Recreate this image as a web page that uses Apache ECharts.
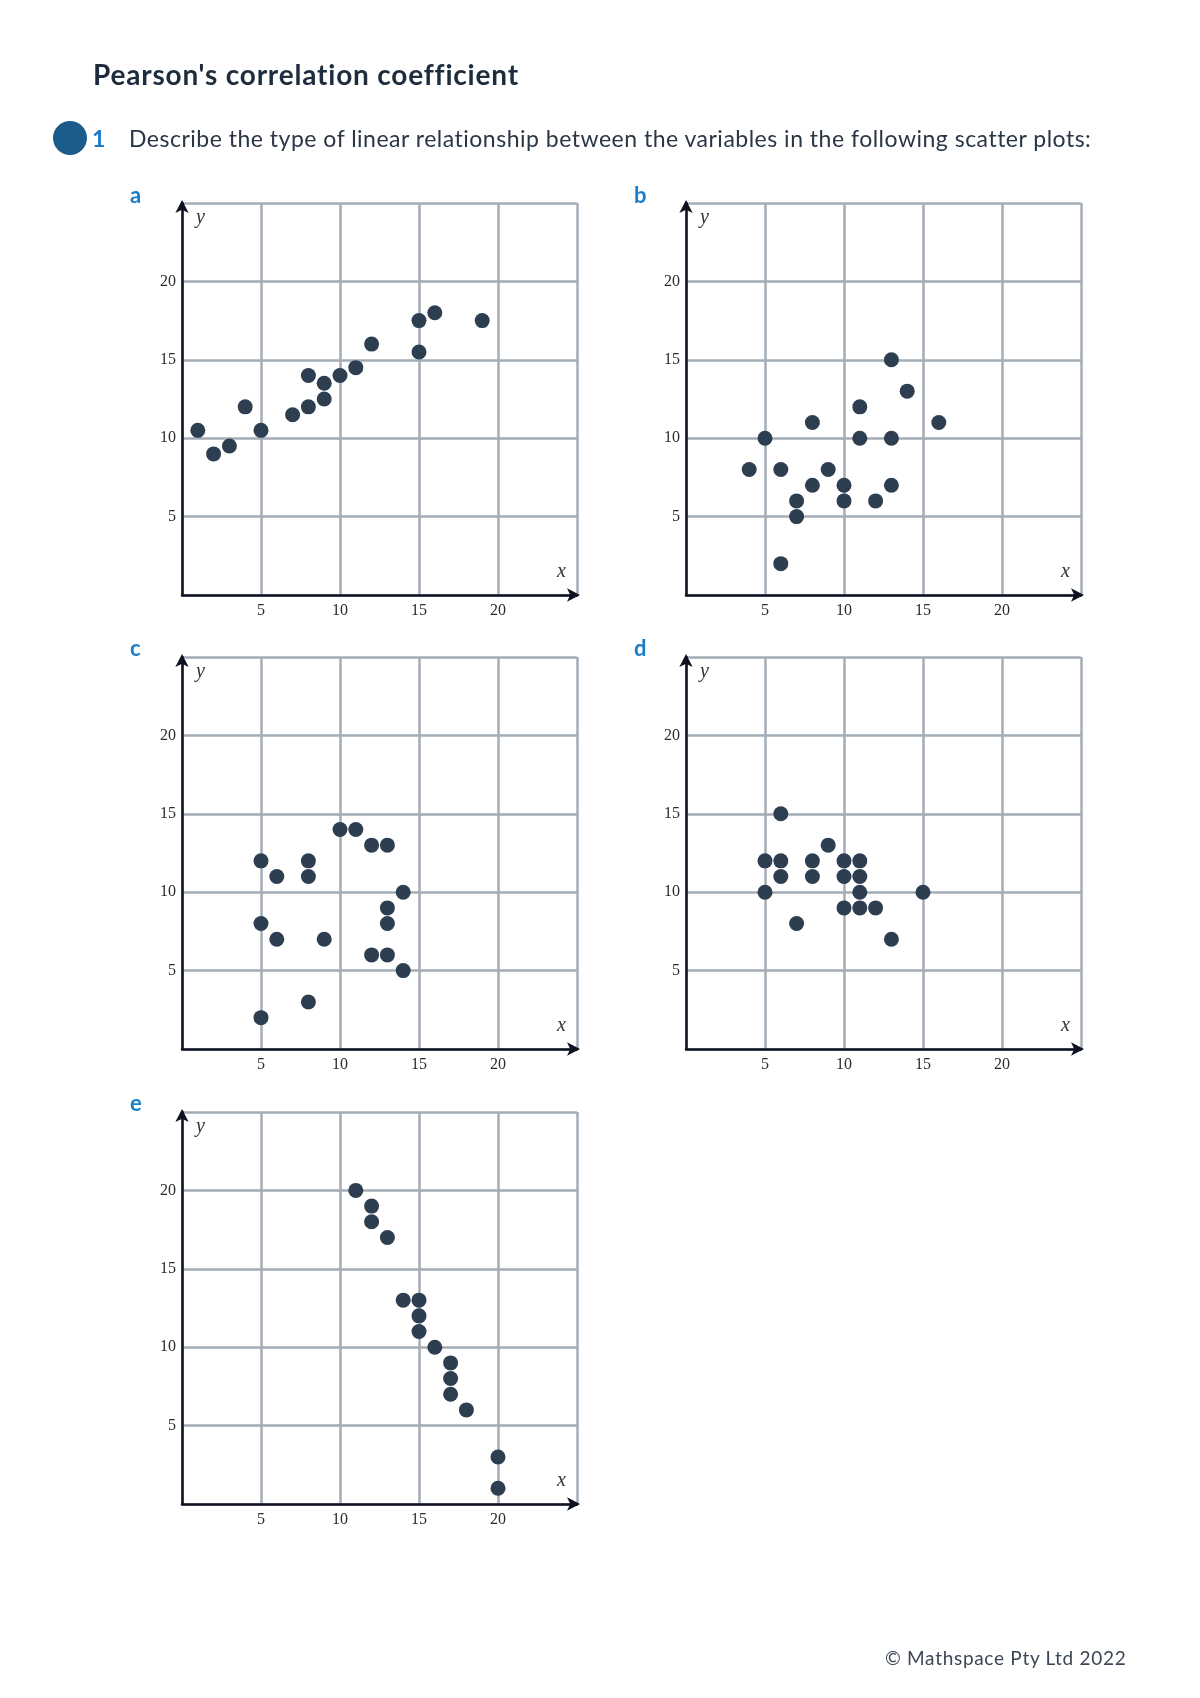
<!DOCTYPE html>
<html lang="en">
<head>
  <meta charset="UTF-8" />
  <title>Pearson's correlation coefficient</title>
  <script src="https://cdn.jsdelivr.net/npm/echarts@6/dist/echarts.min.js"></script>
  <style>
    body {
      margin: 0;
      width: 1200px;
      height: 1698px;
      position: relative;
      background: #fff;
      font-family: 'Lato', sans-serif;
      overflow: hidden;
    }
    #chart {
      position: absolute;
      left: 0; top: 0;
      width: 1200px;
      height: 1698px;
    }
    .txt {
      position: absolute;
      white-space: nowrap;
      line-height: 1;
      transform: translateY(-50%);
    }
    .page-title {
      left: 93px; top: 74px;
      font-size: 28px;
      font-weight: 700;
      letter-spacing: 0.8px;
      color: #1e2d3d;
    }
    .bubble {
      position: absolute;
      left: 53px; top: 121px;
      width: 34px; height: 34px;
      border-radius: 50%;
      background: #1b5c8c;
    }
    .qnum {
      left: 92px; top: 138px;
      font-size: 23px;
      font-weight: 700;
      color: #1f7ac6;
    }
    .question {
      left: 129px; top: 138px;
      font-size: 23px;
      letter-spacing: 0.5px;
      color: #2a3646;
    }
    .part {
      font-size: 22px;
      font-weight: 700;
      color: #1a7dc8;
    }
    .footer {
      left: 885px; top: 1657px;
      font-size: 19px;
      letter-spacing: 0.7px;
      color: #3b4756;
    }
  </style>
</head>
<body>
  <div id="chart"></div>

  <div class="txt page-title">Pearson's correlation coefficient</div>
  <div class="bubble"></div>
  <div class="txt qnum">1</div>
  <div class="txt question">Describe the type of linear relationship between the variables in the following scatter plots:</div>
  <div class="txt part" style="left:130px;top:195px">a</div>
  <div class="txt part" style="left:634px;top:195px">b</div>
  <div class="txt part" style="left:130px;top:648px">c</div>
  <div class="txt part" style="left:634px;top:648px">d</div>
  <div class="txt part" style="left:130px;top:1103px">e</div>
  <div class="txt footer">© Mathspace Pty Ltd 2022</div>

  <script>
    // scatter data, [x, y]
    const pointsA = [
      [1, 10.5], [2, 9], [3, 9.5], [4, 12], [5, 10.5], [7, 11.5], [8, 12], [8, 14],
      [9, 13.5], [9, 12.5], [10, 14], [11, 14.5], [12, 16], [15, 17.5], [15, 15.5],
      [16, 18], [19, 17.5]
    ];
    const pointsB = [
      [4, 8], [5, 10], [6, 8], [6, 2], [7, 6], [7, 5], [8, 11], [8, 7], [9, 8],
      [10, 7], [10, 6], [11, 12], [11, 10], [12, 6], [13, 15], [13, 10], [13, 7],
      [14, 13], [16, 11]
    ];
    const pointsC = [
      [5, 12], [5, 8], [5, 2], [6, 11], [6, 7], [8, 12], [8, 11], [8, 3], [9, 7],
      [10, 14], [11, 14], [12, 13], [13, 13], [12, 6], [13, 6], [13, 9], [13, 8],
      [14, 10], [14, 5]
    ];
    const pointsD = [
      [6, 15], [5, 12], [6, 12], [5, 10], [6, 11], [7, 8], [8, 12], [8, 11], [9, 13],
      [10, 12], [10, 11], [10, 9], [11, 12], [11, 11], [11, 10], [11, 9], [12, 9],
      [13, 7], [15, 10]
    ];
    const pointsE = [
      [11, 20], [12, 19], [12, 18], [13, 17], [14, 13], [15, 13], [15, 12], [15, 11],
      [16, 10], [17, 9], [17, 8], [17, 7], [18, 6], [20, 3], [20, 1]
    ];
    const tickLabels = [5, 10, 15, 20];
    const axisMin = 0;
    const axisMax = 25;
    const axisStep = 5;

    // plot frames on the page
    const frames = [
      { left: 182, top: 203, data: pointsA },
      { left: 686, top: 203, data: pointsB },
      { left: 182, top: 657, data: pointsC },
      { left: 686, top: 657, data: pointsD },
      { left: 182, top: 1112, data: pointsE }
    ];
    const W = 395, H = 392;

    const gridColor = '#a4adb7';
    const axisColor = '#0f1222';
    const dotColor = '#2c3e50';
    const labelFont = "'Liberation Serif', serif";

    const tickFmt = v => tickLabels.includes(v) ? String(v) : '';

    const grids = [], xAxes = [], yAxes = [], series = [], graphics = [];

    const arrowLine = {
      show: true, onZero: false,
      symbol: ['none', 'arrow'], symbolSize: [10, 13], symbolOffset: [0, 3],
      lineStyle: { color: axisColor, width: 2.5 }
    };

    frames.forEach((f, i) => {
      grids.push({ left: f.left, top: f.top, width: W, height: H, containLabel: false });

      const base = { gridIndex: i, type: 'value', min: axisMin, max: axisMax, interval: axisStep };
      // main axes: grid lines + tick labels
      xAxes.push(Object.assign({}, base, {
        position: 'bottom',
        axisLine: { show: false },
        axisTick: { show: false },
        axisLabel: { formatter: tickFmt, margin: 8, fontFamily: labelFont, fontSize: 16, color: '#2b2b2b' },
        splitLine: { show: true, lineStyle: { color: gridColor, width: 2.5 } }
      }));
      // overlay axes: black arrow lines on top
      xAxes.push(Object.assign({}, base, {
        position: 'bottom', z: 10,
        axisLine: arrowLine,
        axisTick: { show: false },
        axisLabel: { show: false },
        splitLine: { show: false }
      }));
      yAxes.push(Object.assign({}, base, {
        position: 'left',
        axisLine: { show: false },
        axisTick: { show: false },
        axisLabel: { formatter: tickFmt, margin: 6, fontFamily: labelFont, fontSize: 16, color: '#2b2b2b' },
        splitLine: { show: true, lineStyle: { color: gridColor, width: 2.5 } }
      }));
      yAxes.push(Object.assign({}, base, {
        position: 'left', z: 10,
        axisLine: arrowLine,
        axisTick: { show: false },
        axisLabel: { show: false },
        splitLine: { show: false }
      }));

      series.push({
        type: 'scatter',
        xAxisIndex: 2 * i,
        yAxisIndex: 2 * i,
        data: f.data,
        symbolSize: 15,
        itemStyle: { color: dotColor, opacity: 1 },
        z: 20
      });

      // axis letters
      graphics.push({
        type: 'text', left: f.left + 14, top: f.top + 5, z: 30,
        style: { text: 'y', font: "italic 20px 'Liberation Serif', serif", fill: '#333' }
      });
      graphics.push({
        type: 'text', left: f.left + W - 20, top: f.top + H - 33, z: 30,
        style: { text: 'x', font: "italic 20px 'Liberation Serif', serif", fill: '#333' }
      });
    });

    const chart = echarts.init(document.getElementById('chart'));
    chart.setOption({
      animation: false,
      grid: grids,
      xAxis: xAxes,
      yAxis: yAxes,
      series: series,
      graphic: graphics
    });
  </script>
</body>
</html>
